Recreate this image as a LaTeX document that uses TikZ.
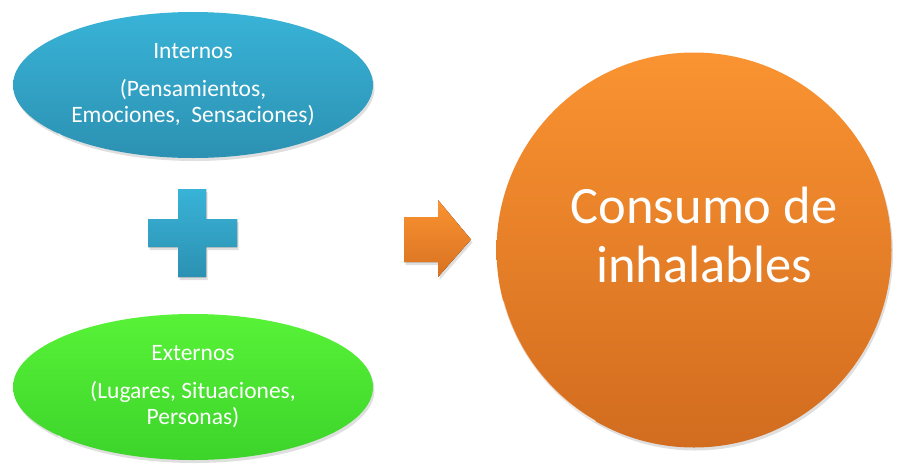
\documentclass[tikz,border=0pt]{standalone}
\usepackage{fontspec}
\setmainfont{Carlito}
\usetikzlibrary{shapes.geometric,shadows}
\definecolor{azulTop}{HTML}{38B3D7}
\definecolor{azulBot}{HTML}{2C91B2}
\definecolor{verdeTop}{HTML}{58F238}
\definecolor{verdeBot}{HTML}{3CD42A}
\definecolor{naranjaTop}{HTML}{FA9331}
\definecolor{naranjaBot}{HTML}{D26C1F}
\tikzset{
    sombra/.style={drop shadow={opacity=0.25, shadow xshift=1.5pt, shadow yshift=-3pt}},
    ovalo/.style={ellipse, draw=none, minimum width=360pt, minimum height=146pt, inner sep=0pt,
        align=center, text=white, font=\fontsize{23.5}{26}\selectfont, sombra},
    brillo/.style={white, line width=1.5pt, opacity=0.6, line cap=round}
}
\begin{document}
\begin{tikzpicture}[x=1pt, y=-1pt]
        \useasboundingbox (0,0) rectangle (904,464);
        \node[ovalo, top color=azulTop, bottom color=azulBot] (internos) at (193,85)
            {Internos\\[12pt](Pensamientos,\\Emociones,~\ Sensaciones)};
        \node[ovalo, top color=verdeTop, bottom color=verdeBot] (externos) at (193,387)
            {Externos\\[12pt](Lugares, Situaciones,\\Personas)};
        \draw[brillo] (internos.200) arc[start angle=200, end angle=235, x radius=180pt, y radius=73pt];
        \draw[brillo] (externos.200) arc[start angle=200, end angle=235, x radius=180pt, y radius=73pt];
        \fill[top color=azulTop, bottom color=azulBot, sombra]
            (178,189) -- (206,189) -- (206,219) -- (237,219) -- (237,247) -- (206,247)
            -- (206,277) -- (178,277) -- (178,247) -- (148,247) -- (148,219) -- (178,219) -- cycle;
        \fill[top color=naranjaTop, bottom color=naranjaBot!85!naranjaTop, sombra]
            (404,217) -- (438,217) -- (438,200) -- (471,239.5) -- (438,277) -- (438,262) -- (404,262) -- cycle;
        \node[circle, draw=none, minimum size=395pt, inner sep=0pt, top color=naranjaTop, bottom color=naranjaBot, sombra] (consumo) at (694,250) {};
        \draw[brillo] (consumo.195) arc[start angle=195, end angle=240, radius=197.5pt];
        \node[text=white, align=center, font=\fontsize{52.5}{59}\selectfont] (consumoT) at ([xshift=10pt, yshift=15pt]consumo.center)
            {Consumo de\\inhalables};
    \end{tikzpicture}
\end{document}
